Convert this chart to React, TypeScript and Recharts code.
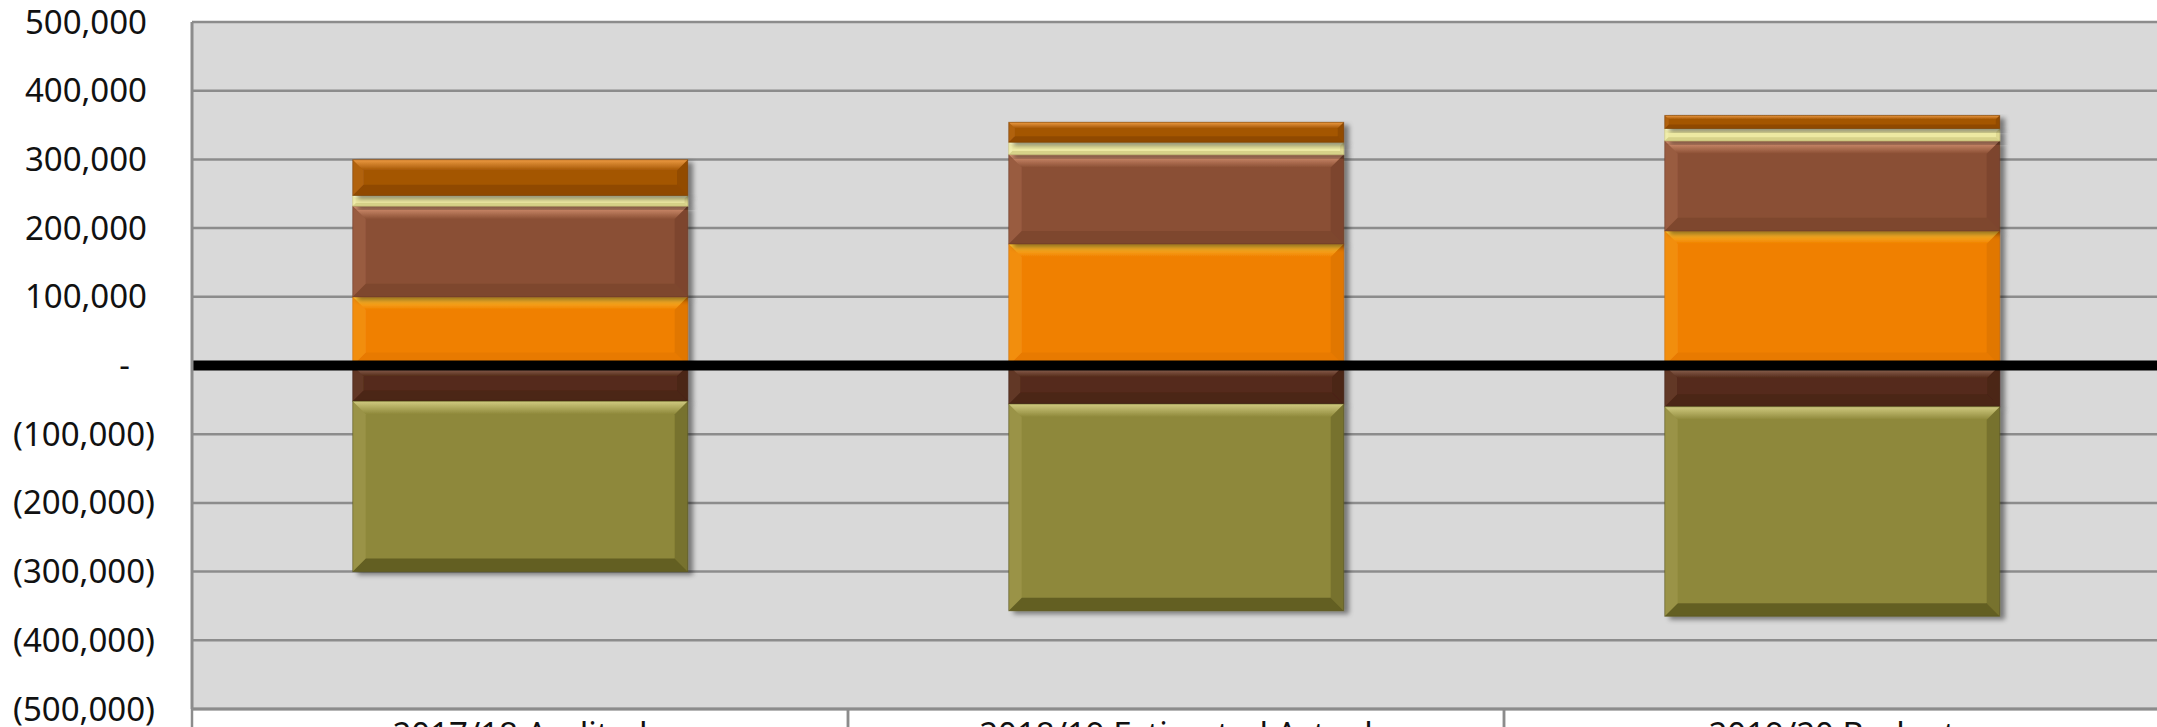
import React from "react";
import {
  BarChart,
  Bar,
  XAxis,
  YAxis,
  CartesianGrid,
  ReferenceLine,
} from "recharts";

// categories along the bottom (text is clipped by the frame in the original)
const categories = ["2017/18 Audited", "2018/19 Estimated Actual", "2019/20 Budget"];

// positive stack, bottom to top
const orangeVals = [100000, 177000, 196000];
const brownVals = [132000, 130000, 131000];
const paleVals = [15500, 18000, 18000];
const rustVals = [52000, 29000, 19000];

// negative stack, top to bottom
const darkBrownVals = [-52000, -56000, -60000];
const oliveVals = [-248000, -301000, -305000];

const yTicks = [500000, 400000, 300000, 200000, 100000, 0, -100000, -200000, -300000, -400000, -500000];

const data = categories.map((name, i) => ({
  name,
  orange: orangeVals[i],
  darkBrown: darkBrownVals[i],
  brown: brownVals[i],
  olive: oliveVals[i],
  pale: paleVals[i],
  rust: rustVals[i],
}));

type Palette = { base: string; light: string; dark: string; bottom: number };

const palettes: { [key: string]: Palette } = {
  orange: { base: "#F08000", light: "#FFCB3A", dark: "#C66600", bottom: 0.2 },
  brown: { base: "#8A4F34", light: "#DC9878", dark: "#643521", bottom: 0.3 },
  pale: { base: "#EDE9A2", light: "#FFFFD8", dark: "#C2BB70", bottom: 0.5 },
  rust: { base: "#A45604", light: "#EC9A42", dark: "#743A00", bottom: 0.4 },
  darkBrown: { base: "#552B1A", light: "#A27A68", dark: "#391b0f", bottom: 0.3 },
  olive: { base: "#8E883A", light: "#D0CA80", dark: "#4E4A18", bottom: 0.65 },
};

const FONT = "'Noto Sans', 'DejaVu Sans', sans-serif";

// bevelled block, the way the spreadsheet draws it
const bevel = (key: string) => (props: any) => {
  const c = palettes[key];
  let { x, y, width: w, height: h } = props;
  if (h < 0) {
    y += h;
    h = -h;
  }
  if (!w || !h) return <g />;
  const b = Math.min(13, h * 0.3, w / 4);
  return (
    <g filter="url(#barShadow)">
      <rect x={x} y={y} width={w} height={h} fill={c.base} />
      <polygon
        points={`${x},${y} ${x + w},${y} ${x + w - b},${y + b} ${x + b},${y + b}`}
        fill={`url(#top-${key})`}
      />
      <polygon
        points={`${x},${y + h} ${x + w},${y + h} ${x + w - b},${y + h - b} ${x + b},${y + h - b}`}
        fill={c.dark}
        opacity={c.bottom}
      />
      <polygon
        points={`${x},${y} ${x + b},${y + b} ${x + b},${y + h - b} ${x},${y + h}`}
        fill={c.light}
        opacity={0.18}
      />
      <polygon
        points={`${x + w},${y} ${x + w - b},${y + b} ${x + w - b},${y + h - b} ${x + w},${y + h}`}
        fill={c.dark}
        opacity={0.35}
      />
      <rect x={x} y={y} width={w} height={h} fill="none" stroke={c.dark} strokeOpacity={0.5} strokeWidth={1} />
    </g>
  );
};

const fmt = (v: number) => Math.abs(v).toLocaleString("en-US");

const YTick = (props: any) => {
  const { x, y, payload } = props;
  const v = payload.value as number;
  let label = fmt(v);
  let right = x - 45;
  if (v === 0) {
    label = "-";
    right = x - 62;
  } else if (v < 0) {
    label = `(${fmt(v)})`;
    right = x - 37;
  }
  return (
    <text x={right} y={y} dy="0.35em" textAnchor="end" fontFamily={FONT} fontSize={33} fill="#111">
      {label}
    </text>
  );
};

const XTick = (props: any) => {
  const { x, y, payload } = props;
  const half = payload && payload.offset ? payload.offset : 328;
  return (
    <g>
      <line x1={x - half} y1={y} x2={x - half} y2={y + 40} stroke="#8c8c8c" strokeWidth={2.5} />
      <line x1={x + half} y1={y} x2={x + half} y2={y + 40} stroke="#8c8c8c" strokeWidth={2.5} />
      <text x={x} y={y} dy={37} textAnchor="middle" fontFamily={FONT} fontSize={33} fill="#111">
        {payload.value}
      </text>
    </g>
  );
};

const App: React.FC = () => {
  return (
    <div style={{ position: "absolute", left: 0, top: 0, width: 2157, height: 727, overflow: "hidden", background: "#fff" }}>
      <svg width={0} height={0} style={{ position: "absolute" }}>
        <defs>
          <filter id="barShadow" x="-10%" y="-10%" width="130%" height="140%">
            <feDropShadow dx={5} dy={3} stdDeviation={2.5} floodColor="#000" floodOpacity={0.45} />
          </filter>
          {Object.keys(palettes).map((k) => (
            <linearGradient key={k} id={`top-${k}`} x1="0" y1="0" x2="0" y2="1">
              <stop offset="0%" stopColor={palettes[k].light} />
              <stop offset="100%" stopColor={palettes[k].base} />
            </linearGradient>
          ))}
        </defs>
      </svg>
      <BarChart
        width={2170}
        height={770}
        data={data}
        stackOffset="sign"
        barCategoryGap="24.5%"
        margin={{ top: 22, right: 10, left: 0, bottom: 0 }}
      >
        <CartesianGrid vertical={false} stroke="#8c8c8c" strokeWidth={2.5} fill="#D9D9D9" />
        <XAxis
          dataKey="name"
          height={61}
          tickSize={0}
          tickMargin={0}
          tickLine={false}
          axisLine={{ stroke: "#8c8c8c", strokeWidth: 3 }}
          tick={<XTick />}
          interval={0}
        />
        <YAxis
          type="number"
          width={192}
          domain={[-500000, 500000]}
          ticks={yTicks}
          interval={0}
          tickSize={0}
          tickMargin={0}
          tickLine={false}
          axisLine={{ stroke: "#8c8c8c", strokeWidth: 3 }}
          tick={<YTick />}
        />
        <Bar dataKey="orange" stackId="s" fill={palettes.orange.base} shape={bevel("orange")} isAnimationActive={false} />
        <Bar dataKey="darkBrown" stackId="s" fill={palettes.darkBrown.base} shape={bevel("darkBrown")} isAnimationActive={false} />
        <Bar dataKey="brown" stackId="s" fill={palettes.brown.base} shape={bevel("brown")} isAnimationActive={false} />
        <Bar dataKey="olive" stackId="s" fill={palettes.olive.base} shape={bevel("olive")} isAnimationActive={false} />
        <Bar dataKey="pale" stackId="s" fill={palettes.pale.base} shape={bevel("pale")} isAnimationActive={false} />
        <Bar dataKey="rust" stackId="s" fill={palettes.rust.base} shape={bevel("rust")} isAnimationActive={false} />
        <ReferenceLine y={0} stroke="#000" strokeWidth={10} />
      </BarChart>
    </div>
  );
};

export default App;
